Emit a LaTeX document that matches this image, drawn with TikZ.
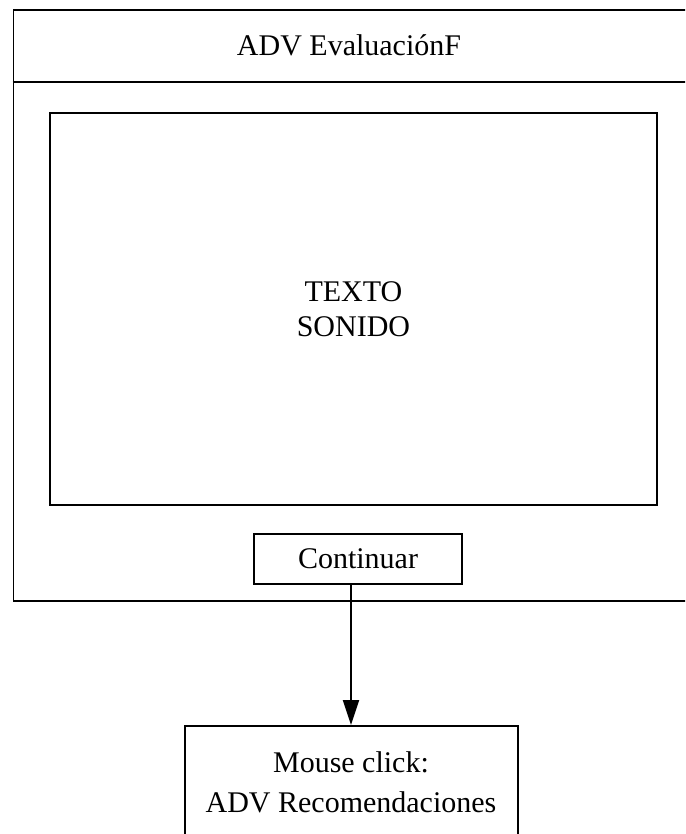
\documentclass[tikz,border=0pt]{standalone}
\usepackage{fontspec}
\setmainfont{Liberation Serif}
\usetikzlibrary{arrows.meta}
\begin{document}
\begin{tikzpicture}[x=1pt,y=-1pt,
  box/.style={draw, line width=1.9pt, inner sep=0pt},
  lbl/.style={font=\fontsize{30}{35}\selectfont, align=center}]
\useasboundingbox (0,0) rectangle (685,834);
\clip (0,0) rectangle (685,834);
\node[box, anchor=north west, minimum width=675pt, minimum height=591pt] (frame) at (12.5,9) {};
\coordinate (hl) at (0,82);
\draw[line width=1.9pt] (frame.west |- hl) -- (frame.east |- hl);
\node[lbl] (title) at (349,45) {ADV EvaluaciónF};
\node[box, lbl, anchor=north west, minimum width=607pt, minimum height=392pt] (content) at (49,112) {TEXTO\\SONIDO};
\node[box, lbl, minimum width=208pt, minimum height=50pt] (cont) at (358,559) {Continuar};
\node[box, anchor=north west, minimum width=333pt, minimum height=120pt] (click) at (184,725) {};
\node[font=\fontsize{30}{40}\selectfont, align=center] (clicktext) at (351,782) {Mouse click:\\ADV Recomendaciones};
\coordinate (ax) at (351,0);
\draw[line width=1.9pt, -{Triangle[width=16pt,length=25pt]}] (cont.south -| ax) -- (click.north -| ax);
\end{tikzpicture}
\end{document}
